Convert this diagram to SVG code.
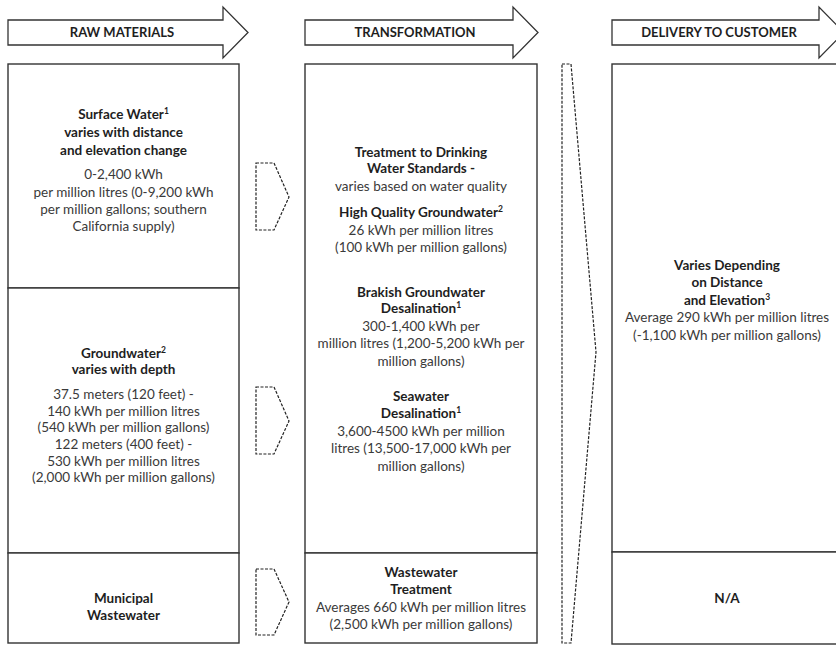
<svg xmlns="http://www.w3.org/2000/svg" width="836" height="645" viewBox="0 0 836 645">
<style>
.box{fill:#fff;stroke:#333;stroke-width:1.4}
.hdr{fill:#fff;stroke:#333;stroke-width:1.3}
.dash{fill:none;stroke:#222;stroke-width:1.2;stroke-dasharray:3,1.5}
text{font-family:Lato,"Open Sans",sans-serif;font-size:13.5px;text-anchor:middle;fill:#3a3a3a}
.b{font-weight:bold;fill:#1e1e1e}
.h{font-weight:bold;font-size:13px;fill:#1e1e1e}
.sup{font-size:8.5px}
</style>
<rect width="836" height="645" fill="#fff"/>
<g id="headers">
<g id="hdr-raw"><path class="hdr" d="M8,20 H223 V7 L248,32.5 L223,58 V45 H8 Z"/><text class="h" x="122" y="37">RAW MATERIALS</text></g>
<g id="hdr-trans"><path class="hdr" d="M305,20 H513 V7 L538,32.5 L513,58 V45 H305 Z"/><text class="h" x="415" y="37">TRANSFORMATION</text></g>
<g id="hdr-deliv"><path class="hdr" d="M612,20 H819 V7 L844,32.5 L819,58 V45 H612 Z"/><text class="h" x="719" y="37">DELIVERY TO CUSTOMER</text></g>
</g>
<g id="col-raw">
<g id="surface-water"><rect class="box" x="8" y="64" width="231" height="224"/>
<text class="b" x="123.5" y="119">Surface Water<tspan class="sup" dy="-5">1</tspan></text>
<text class="b" x="123.5" y="137">varies with distance</text>
<text class="b" x="123.5" y="155">and elevation change</text>
<text x="123.5" y="179">0-2,400 kWh</text>
<text x="123.5" y="197">per million litres (0-9,200 kWh</text>
<text x="123.5" y="214">per million gallons; southern</text>
<text x="123.5" y="231">California supply)</text></g>
<g id="groundwater"><rect class="box" x="8" y="288" width="231" height="265"/>
<text class="b" x="123.5" y="358">Groundwater<tspan class="sup" dy="-5">2</tspan></text>
<text class="b" x="123.5" y="374">varies with depth</text>
<text x="123.5" y="399">37.5 meters (120 feet) -</text>
<text x="123.5" y="416">140 kWh per million litres</text>
<text x="123.5" y="432">(540 kWh per million gallons)</text>
<text x="123.5" y="449">122 meters (400 feet) -</text>
<text x="123.5" y="466">530 kWh per million litres</text>
<text x="123.5" y="482">(2,000 kWh per million gallons)</text></g>
<g id="municipal"><rect class="box" x="8" y="553" width="231" height="90"/>
<text class="b" x="123.5" y="603">Municipal</text>
<text class="b" x="123.5" y="620">Wastewater</text></g>
</g>
<g id="col-trans">
<g id="treatment"><rect class="box" x="305" y="64" width="232" height="489"/>
<text class="b" x="421" y="157">Treatment to Drinking</text>
<text class="b" x="421" y="173">Water Standards -</text>
<text x="421" y="191">varies based on water quality</text>
<text class="b" x="421" y="217">High Quality Groundwater<tspan class="sup" dy="-5">2</tspan></text>
<text x="421" y="235">26 kWh per million litres</text>
<text x="421" y="252">(100 kWh per million gallons)</text>
<text class="b" x="421" y="297">Brakish Groundwater</text>
<text class="b" x="421" y="313">Desalination<tspan class="sup" dy="-5">1</tspan></text>
<text x="421" y="331">300-1,400 kWh per</text>
<text x="421" y="348">million litres (1,200-5,200 kWh per</text>
<text x="421" y="366">million gallons)</text>
<text class="b" x="421" y="401">Seawater</text>
<text class="b" x="421" y="418">Desalination<tspan class="sup" dy="-5">1</tspan></text>
<text x="421" y="436">3,600-4500 kWh per million</text>
<text x="421" y="453">litres (13,500-17,000 kWh per</text>
<text x="421" y="471">million gallons)</text></g>
<g id="wastewater-treatment"><rect class="box" x="305" y="553" width="232" height="90"/>
<text class="b" x="421" y="577">Wastewater</text>
<text class="b" x="421" y="594">Treatment</text>
<text x="421" y="612">Averages 660 kWh per million litres</text>
<text x="421" y="629">(2,500 kWh per million gallons)</text></g>
</g>
<g id="col-deliv">
<g id="delivery"><rect class="box" x="612" y="64" width="240" height="488"/>
<text class="b" x="727" y="270">Varies Depending</text>
<text class="b" x="727" y="287">on Distance</text>
<text class="b" x="727" y="305">and Elevation<tspan class="sup" dy="-5">3</tspan></text>
<text x="727" y="322">Average 290 kWh per million litres</text>
<text x="727" y="340">(-1,100 kWh per million gallons)</text></g>
<g id="na"><rect class="box" x="612" y="552" width="240" height="92"/>
<text class="b" x="727" y="603">N/A</text></g>
</g>
<g id="connectors">
<path class="dash" d="M256,163 H274 L289,197 L274,230 H256 Z"/>
<path class="dash" d="M256,387 H274 L289,421 L274,454 H256 Z"/>
<path class="dash" d="M256,569 H274 L289,602 L274,635 H256 Z"/>
<path class="dash" d="M562,64 H571 L596,352 L571,643 H562 Z"/>
</g>
</svg>
